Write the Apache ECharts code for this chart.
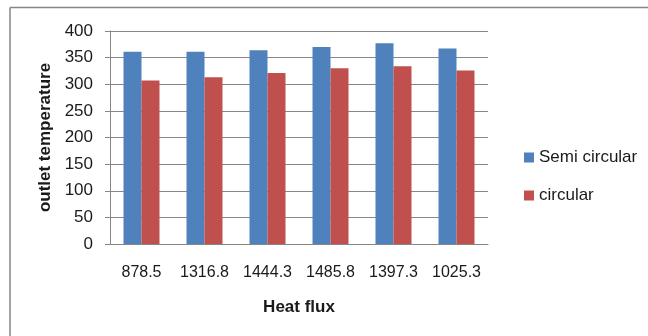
<!DOCTYPE html>
<html>
<head>
<meta charset="utf-8">
<script src="https://cdn.jsdelivr.net/npm/echarts@6/dist/echarts.min.js"></script>
<style>html,body{margin:0;padding:0;background:#fff}#c{width:648px;height:336px}</style>
</head>
<body>
<div id="c"></div>
<script>
const categories = ['878.5', '1316.8', '1444.3', '1485.8', '1397.3', '1025.3'];
const semiCircular = [361, 361, 364, 370, 377, 367];
const circular = [307, 313, 321, 330, 334, 326];
const yTicks = [0, 50, 100, 150, 200, 250, 300, 350, 400];

const chart = echarts.init(document.getElementById('c'), null, {renderer: 'canvas'});
const font = 'Liberation Sans';
const gray = '#868686';
chart.setOption({
  animation: false,
  textStyle: {fontFamily: font},
  graphic: [
    {type: 'line', shape: {x1: 10, y1: 7.5, x2: 648, y2: 7.5}, style: {stroke: gray, lineWidth: 1.5}},
    {type: 'line', shape: {x1: 10, y1: 7.5, x2: 10, y2: 336}, style: {stroke: gray, lineWidth: 1.5}}
  ],
  grid: {left: 110, right: 160, top: 31, bottom: 92},
  legend: {
    orient: 'vertical', left: 519, top: 144, itemWidth: 10, itemHeight: 10, itemGap: 21,
    icon: 'rect',
    textStyle: {fontFamily: font, fontSize: 17, color: '#1a1a1a', padding: [0, 0, 0, 0]},
    data: ['Semi circular', 'circular']
  },
  xAxis: {
    type: 'category', data: categories,
    name: 'Heat flux', nameLocation: 'middle', nameGap: 55,
    nameTextStyle: {fontFamily: font, fontSize: 17, fontWeight: 'bold', color: '#1a1a1a'},
    axisLine: {lineStyle: {color: gray}},
    axisTick: {length: 6, lineStyle: {color: gray}},
    axisLabel: {fontFamily: font, fontSize: 16, color: '#1a1a1a', margin: 21, interval: 0}
  },
  yAxis: {
    type: 'value', min: yTicks[0], max: yTicks[yTicks.length - 1], interval: 50,
    name: 'outlet temperature', nameLocation: 'middle', nameGap: 56, nameRotate: 90,
    nameTextStyle: {fontFamily: font, fontSize: 17, fontWeight: 'bold', color: '#1a1a1a'},
    axisLine: {show: true, lineStyle: {color: gray}},
    axisTick: {show: true, length: 5, lineStyle: {color: gray}},
    splitLine: {lineStyle: {color: gray}},
    axisLabel: {fontFamily: font, fontSize: 17, color: '#1a1a1a', margin: 17}
  },
  series: [
    {name: 'Semi circular', type: 'bar', data: semiCircular, barWidth: 18, barGap: '0%', itemStyle: {color: '#4F81BD'}},
    {name: 'circular', type: 'bar', data: circular, barWidth: 18, barGap: '0%', itemStyle: {color: '#C0504D'}}
  ]
});
</script>
</body>
</html>
